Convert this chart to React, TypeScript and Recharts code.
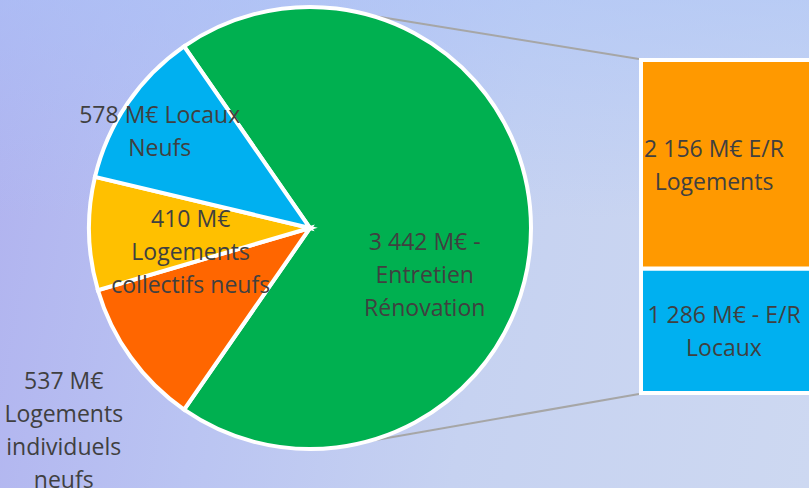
import React from 'react'
import { PieChart, Pie, Cell, BarChart, Bar, XAxis, YAxis, Customized } from 'recharts'

// pie: construction market split (M€)
const CATEGORIES = ['Entretien Rénovation', 'Logements individuels neufs', 'Logements collectifs neufs', 'Locaux Neufs']
const VALUES = [3442, 537, 410, 578]
const PIE_LABELS = [
  ['3 442 M€ -', 'Entretien', 'Rénovation'],
  ['537 M€', 'Logements', 'individuels', 'neufs'],
  ['410 M€', 'Logements', 'collectifs neufs'],
  ['578 M€ Locaux', 'Neufs'],
]
const COLORS = ['#00B050', '#FF6600', '#FFC000', '#00B0F0']

// bar: breakdown of Entretien Rénovation
const BAR_KEYS = ['locaux', 'logements']
const BAR_VALUES = [1286, 2156]
const BAR_LABELS = [
  ['1 286 M€ - E/R', 'Locaux'],
  ['2 156 M€ E/R', 'Logements'],
]
const BAR_COLORS = ['#00B0F0', '#FF9900']

const W = 809
const H = 488
const PIE_CX = 310
const PIE_CY = 228
const PIE_R = 221
const BAR_LEFT = 639
const BAR_TOP = 58
const BAR_W = 172
const BAR_H = 337

// label placement per slice: [radius factor, angle shift in degrees]
const LABEL_LAYOUT = [
  [0.56, -22],
  [1.44, 3.5],
  [0.55, 9.5],
  [0.81, 1.4],
]
const BAR_LABEL_SHIFT = [-2, -12]

const FONT = '"Open Sans", sans-serif'
const TEXT = '#404040'
const FS = 23
const LH = 33

const total = VALUES.reduce((a, b) => a + b, 0)
const startAngle = (VALUES[0] / total) * 180
const pieData = CATEGORIES.map((name, i) => ({ name, value: VALUES[i] }))
const barData = [
  BAR_KEYS.reduce((row: any, k, i) => ({ ...row, [k]: BAR_VALUES[i] }), { name: 'E/R' }),
]

const RAD = Math.PI / 180

function MultiLine({ x, y, lines }: { x: number; y: number; lines: string[] }) {
  const y0 = y - ((lines.length - 1) * LH) / 2
  return (
    <text x={x} y={y0} textAnchor="middle" dominantBaseline="central" fill={TEXT} fontSize={FS} fontFamily={FONT}>
      {lines.map((l, i) => (
        <tspan key={i} x={x} y={y0 + i * LH}>
          {l}
        </tspan>
      ))}
    </text>
  )
}

function renderPieLabel(props: any) {
  const { cx, cy, midAngle, outerRadius, index } = props
  const [f, shift] = LABEL_LAYOUT[index]
  const a = (midAngle + shift) * RAD
  const r = outerRadius * f
  return <MultiLine key={index} x={cx + r * Math.cos(a)} y={cy - r * Math.sin(a)} lines={PIE_LABELS[index]} />
}

function Connectors() {
  const pts = [74, -75].map((deg) => [PIE_CX + PIE_R * Math.cos(deg * RAD), PIE_CY - PIE_R * Math.sin(deg * RAD)])
  const ends = [
    [BAR_LEFT, BAR_TOP + 1],
    [BAR_LEFT, BAR_TOP + BAR_H - 1],
  ]
  return (
    <g>
      {pts.map((p, i) => (
        <line key={i} x1={p[0]} y1={p[1]} x2={ends[i][0]} y2={ends[i][1]} stroke="#A6A6A6" strokeWidth={2} />
      ))}
    </g>
  )
}

function barLabel(i: number) {
  return (props: any) => {
    const { x, y, width, height } = props
    return <MultiLine x={x + width / 2 + BAR_LABEL_SHIFT[i]} y={y + height / 2} lines={BAR_LABELS[i]} />
  }
}

export default function App() {
  return (
    <div
      style={{
        position: 'fixed',
        left: 0,
        top: 0,
        width: W,
        height: H,
        overflow: 'hidden',
        background:
          'linear-gradient(180deg, rgba(170,195,248,0.55) 0%, rgba(200,212,240,0) 45%), linear-gradient(100deg, #b0b2ef 0%, #bac4f2 30%, #c6d2f1 60%, #cdd8f1 100%)',
      }}
    >
      <div style={{ position: 'absolute', left: 0, top: 0 }}>
        <PieChart width={W} height={H} margin={{ top: 0, right: 0, bottom: 0, left: 0 }}>
          <Customized component={Connectors} />
          <Pie
            data={pieData}
            dataKey="value"
            nameKey="name"
            cx={PIE_CX}
            cy={PIE_CY}
            outerRadius={PIE_R}
            startAngle={startAngle}
            endAngle={startAngle - 360}
            stroke="#FFFFFF"
            strokeWidth={4}
            label={renderPieLabel}
            labelLine={false}
            isAnimationActive={false}
          >
            {pieData.map((d, i) => (
              <Cell key={d.name} fill={COLORS[i]} />
            ))}
          </Pie>
        </PieChart>
      </div>
      <div style={{ position: 'absolute', left: BAR_LEFT, top: BAR_TOP }}>
        <BarChart
          width={BAR_W}
          height={BAR_H}
          data={barData}
          margin={{ top: 2, right: 0, bottom: 2, left: 2 }}
          barCategoryGap={0}
        >
          <XAxis dataKey="name" hide />
          <YAxis hide domain={[0, VALUES[0]]} />
          {BAR_KEYS.map((k, i) => (
            <Bar
              key={k}
              dataKey={k}
              stackId="a"
              fill={BAR_COLORS[i]}
              stroke="#FFFFFF"
              strokeWidth={4}
              label={barLabel(i)}
              isAnimationActive={false}
            />
          ))}
        </BarChart>
      </div>
    </div>
  )
}
